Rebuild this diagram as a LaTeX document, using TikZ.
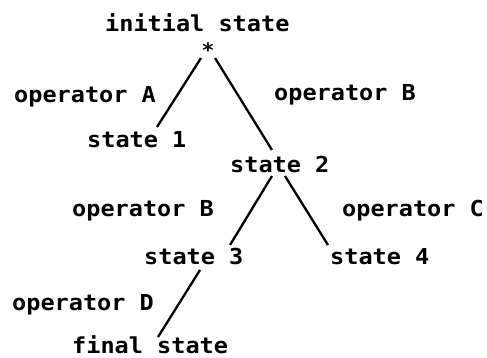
\documentclass[tikz,border=0pt]{standalone}
\usepackage{fontspec}
\usetikzlibrary{calc}
\newfontfamily\treefont[FakeStretch=1.07]{DejaVu Sans Mono}
\tikzset{
  lbl/.style={anchor=base west, inner sep=0pt,
    font=\treefont\bfseries\fontsize{22}{22}\selectfont},
  starmark/.style={anchor=base, inner sep=0pt,
    font=\treefont\bfseries\fontsize{20}{20}\selectfont},
  edge/.style={line width=2.3pt, black}
}
\begin{document}
\begin{tikzpicture}[x=1pt, y=-1pt]
  \useasboundingbox (0,0) rectangle (487,357);

  % states and operator labels
  \node[lbl] (init) at (105,31) {initial state};
  \node[starmark] (star) at (208,57) {*};
  \node[lbl] (opA) at (14,102) {operator A};
  \node[lbl] (s1) at (87,147) {state 1};
  \node[lbl] (opB1) at (274,100) {operator B};
  \node[lbl] (s2) at (230,172) {state 2};
  \node[lbl] (opB2) at (72,216) {operator B};
  \node[lbl] (opC) at (342,216) {operator C};
  \node[lbl] (s3) at (144,264) {state 3};
  \node[lbl] (s4) at (330,264) {state 4};
  \node[lbl] (opD) at (12,310) {operator D};
  \node[lbl] (fin) at (72,353) {final state};

  % branches of the search tree
  \draw[edge] ($(star.base)+(-7,1)$) -- ($(s1.base west)+(70,-20)$);
  \draw[edge] ($(star.base)+(7,1)$) -- ($(s2.base west)+(42,-22)$);
  \draw[edge] ($(s2.base west)+(42,4)$) -- ($(s3.base west)+(86,-19)$);
  \draw[edge] ($(s2.base west)+(55,4)$) -- ($(s4.base west)+(-2,-19)$);
  \draw[edge] ($(s3.base west)+(56,6)$) -- ($(fin.base west)+(86,-16)$);
\end{tikzpicture}
\end{document}
